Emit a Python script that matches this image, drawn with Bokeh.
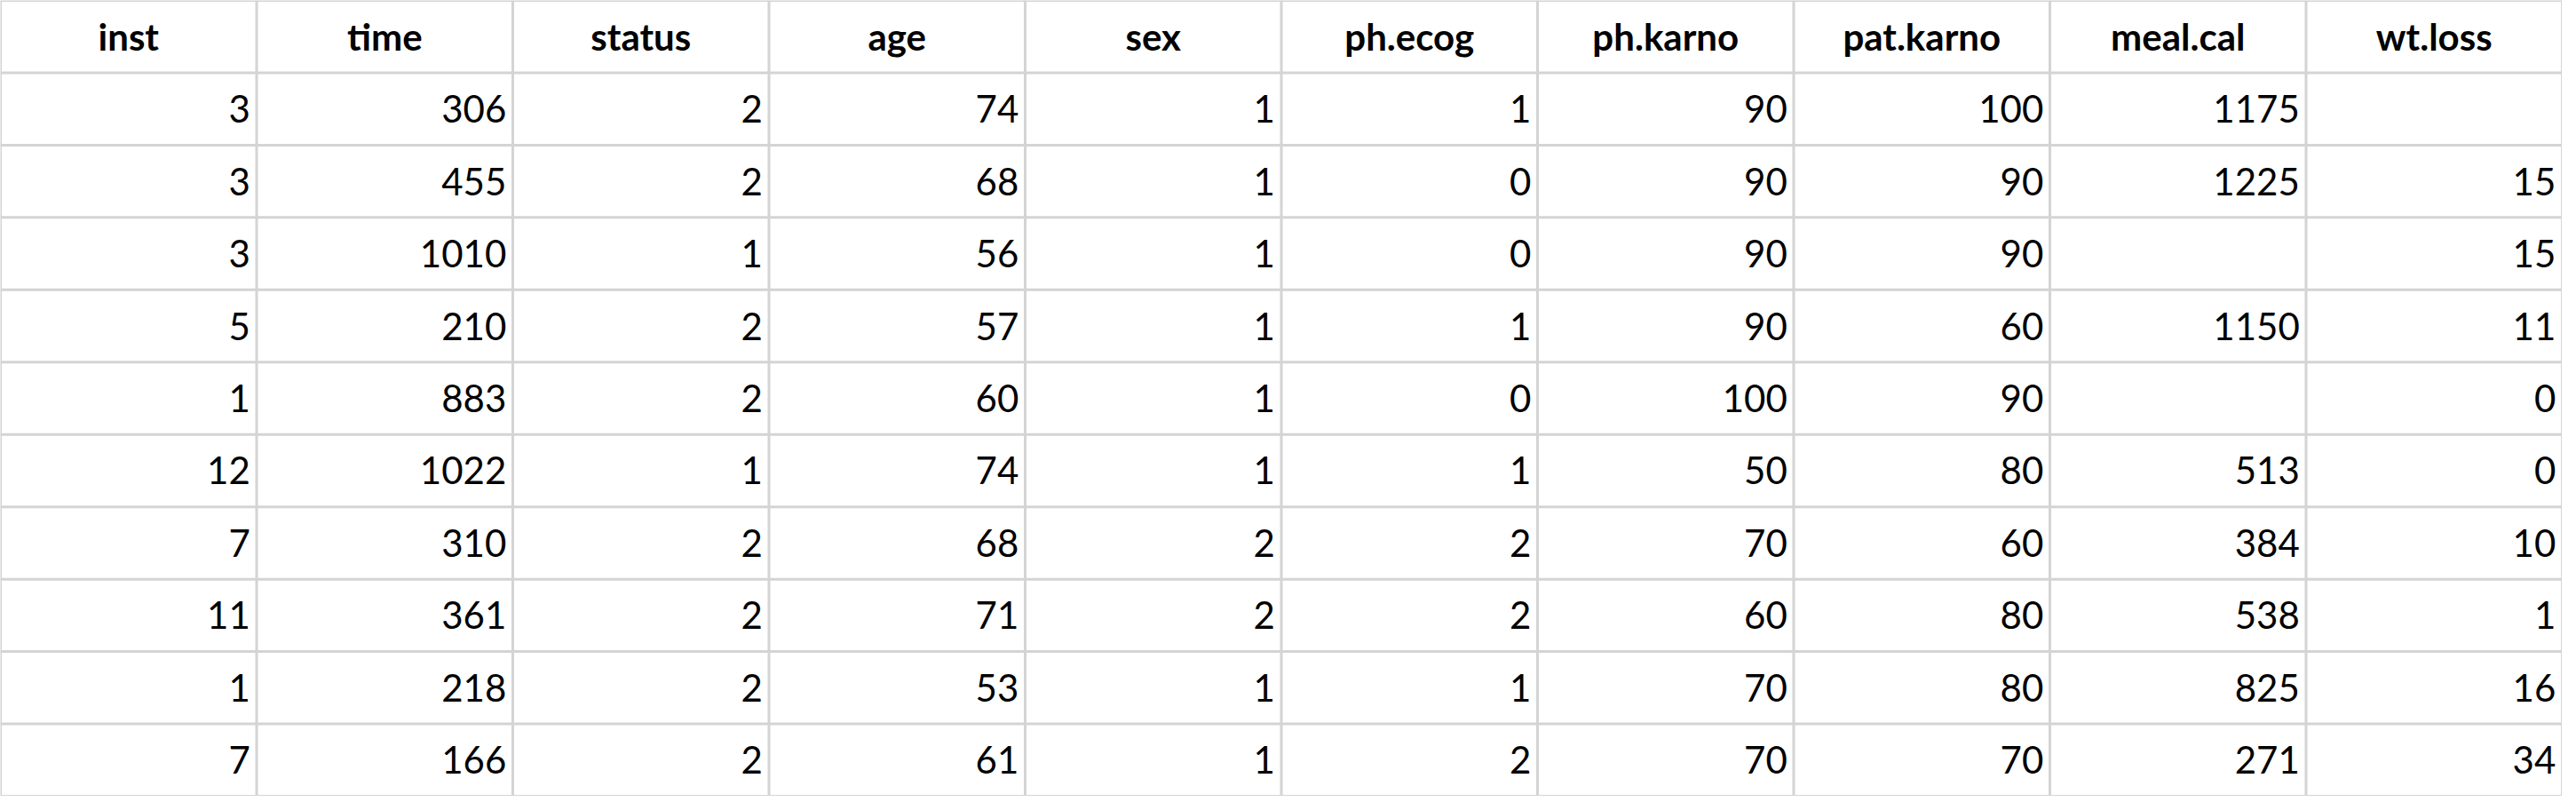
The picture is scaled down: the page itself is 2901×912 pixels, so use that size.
from bokeh.plotting import figure
from bokeh.models import ColumnDataSource, Range1d
from bokeh.core.properties import value
from bokeh.embed import file_html
from bokeh.resources import INLINE

columns = ["inst", "time", "status", "age", "sex", "ph.ecog", "ph.karno", "pat.karno", "meal.cal", "wt.loss"]
inst = [3, 3, 3, 5, 1, 12, 7, 11, 1, 7]
time = [306, 455, 1010, 210, 883, 1022, 310, 361, 218, 166]
status = [2, 2, 1, 2, 2, 1, 2, 2, 2, 2]
age = [74, 68, 56, 57, 60, 74, 68, 71, 53, 61]
sex = [1, 1, 1, 1, 1, 1, 2, 2, 1, 1]
ph_ecog = [1, 0, 0, 1, 0, 1, 2, 2, 1, 2]
ph_karno = [90, 90, 90, 90, 100, 50, 70, 60, 70, 70]
pat_karno = [100, 90, 90, 60, 90, 80, 60, 80, 80, 70]
meal_cal = [1175, 1225, None, 1150, None, 513, 384, 538, 825, 271]
wt_loss = [None, 15, 15, 11, 0, 0, 10, 1, 16, 34]

table = [inst, time, status, age, sex, ph_ecog, ph_karno, pat_karno, meal_cal, wt_loss]
ncol = len(columns)
nrow = len(inst) + 1

W, H = 2885, 896
p = figure(width=W, height=H, output_backend="svg", toolbar_location=None,
           x_range=Range1d(0, ncol), y_range=Range1d(nrow, 0),
           min_border=0, outline_line_color=None)
p.axis.visible = False
p.grid.visible = False

# grid lines
xs0, xs1, ys0, ys1 = [], [], [], []
for i in range(ncol + 1):
    xs0.append(i); xs1.append(i); ys0.append(0); ys1.append(nrow)
for j in range(nrow + 1):
    xs0.append(0); xs1.append(ncol); ys0.append(j); ys1.append(j)
p.segment(x0=xs0, y0=ys0, x1=xs1, y1=ys1, line_color="#d4d4d4", line_width=3)

# header
p.text(x=[i + 0.5 for i in range(ncol)], y=[0.5] * ncol, text=columns,
       text_align="center", text_baseline="middle", text_font=value("Lato"),
       text_font_size="42px", text_font_style="bold", text_color="black")

# body
bx, by, bt = [], [], []
for i, col in enumerate(table):
    for j, v in enumerate(col):
        if v is None:
            continue
        bx.append(i + 0.975); by.append(j + 1.5); bt.append(str(v))
src = ColumnDataSource(dict(x=bx, y=by, t=bt))
p.text(x="x", y="y", text="t", source=src, text_align="right", text_baseline="middle",
       text_font=value("Lato"), text_font_size="42px", text_color="black")

open("out.html", "w").write(file_html(p, INLINE))
